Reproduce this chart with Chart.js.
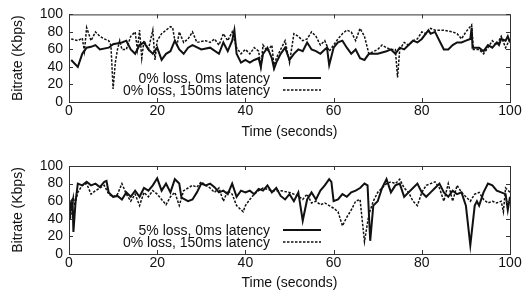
<!DOCTYPE html>
<html>
<head>
<meta charset="utf-8">
<script src="https://cdn.jsdelivr.net/npm/chart.js@4.4.1/dist/chart.umd.min.js"></script>
<style>
  html, body { margin: 0; padding: 0; background: #fff; }
  #wrap { position: relative; width: 527px; height: 301px; }
  #topChart { position: absolute; left: 0; top: 0; }
  #bottomChart { position: absolute; left: 0; top: 150px; }
</style>
</head>
<body>
<div id="wrap">
  <canvas id="topChart" width="527" height="150"></canvas>
  <canvas id="bottomChart" width="527" height="151"></canvas>
</div>
<script>
// Tick labels for both axes (gnuplot style)
const xTicks = [0, 20, 40, 60, 80, 100];
const yTicks = [0, 20, 40, 60, 80, 100];

// Top plot: 0% loss, 0ms latency
const topSolidTime = [
  0.5, 2, 3, 4, 5, 6, 7, 9, 10, 12,
  13, 14, 15, 16, 17, 18, 19, 20, 21, 22,
  23, 24, 25, 26, 27, 28, 30, 32, 34, 35,
  36, 37, 37.5, 38, 39, 40, 41, 42, 43, 43.5,
  44, 45, 46, 46.5, 47, 48, 49, 50, 51, 52,
  53, 54, 55, 56, 57, 58, 58.5, 59, 60, 61,
  62, 63, 64, 65, 66, 67, 68, 70, 72, 73,
  74, 75, 76, 77, 78, 79, 80, 81.5, 82, 83,
  84, 85, 86, 87, 88, 89, 90, 91, 91.3, 91.5,
  93, 94, 95, 96, 97, 97.5, 98, 99, 99.5, 100
];
const topSolidRate = [
  48, 40, 55, 62, 63, 65, 60, 62, 66, 68,
  70, 60, 55, 65, 68, 60, 55, 62, 48, 55,
  58, 70, 60, 55, 62, 65, 60, 62, 55, 68,
  58, 70, 82, 55, 45, 48, 45, 48, 50, 40,
  55, 62, 50, 38, 45, 55, 62, 48, 55, 60,
  58, 68, 60, 58, 55, 60, 62, 42, 62, 68,
  70, 62, 55, 60, 50, 48, 55, 55, 58, 60,
  55, 62, 60, 65, 70, 68, 72, 82, 78, 80,
  70, 60, 60, 65, 68, 68, 70, 72, 85, 62,
  62, 58, 65, 62, 68, 65, 72, 70, 75, 68
];

// Top plot: 0% loss, 150ms latency
const topDashTime = [
  0.5, 2, 3, 3.5, 4, 5, 6, 7, 8, 9,
  9.5, 10, 10.5, 11, 11.5, 12, 13, 14, 15, 15.5,
  16, 16.5, 17, 18, 19, 19.5, 20, 21, 22, 23,
  23.5, 24, 24.5, 25, 26, 27, 28, 29, 31, 32,
  33, 34, 35, 36, 37, 38, 39, 40, 41, 42,
  43, 43.5, 44, 45, 46, 46.5, 47, 48, 49, 50,
  51, 52, 53, 54, 55, 56, 57, 58, 59, 60,
  61, 62, 63, 64, 65, 66, 67, 68, 70, 71,
  72, 73, 74, 74.5, 75, 76, 77, 78, 79, 80,
  81, 82, 83, 85, 87, 88, 89, 90, 91.3, 91.7,
  93, 94, 95, 96, 97, 98, 99, 100
];
const topDashRate = [
  72, 70, 73, 58, 85, 70, 80, 75, 72, 70,
  65, 15, 45, 60, 70, 60, 60, 75, 80, 60,
  82, 50, 70, 60, 82, 48, 70, 78, 82, 86,
  85, 70, 65, 80, 68, 72, 80, 68, 70, 68,
  72, 65, 78, 70, 80, 62, 55, 60, 55, 62,
  58, 40, 65, 58, 65, 40, 50, 60, 70, 45,
  78, 75, 70, 72, 80, 75, 65, 70, 58, 65,
  72, 78, 82, 80, 70, 84, 75, 55, 60, 65,
  62, 60, 60, 28, 60, 68, 65, 70, 72, 80,
  78, 84, 82, 82, 80, 78, 72, 80, 88, 60,
  60, 55, 62, 70, 65, 75, 62, 72
];

// Bottom plot: 5% loss, 0ms latency
const bottomSolidTime = [
  0.2, 0.5, 0.8, 1, 1.5, 2, 3, 4, 5, 6,
  7, 8, 8.5, 9, 10, 11, 12, 13, 14, 15,
  16, 17, 18, 19, 20, 21, 22, 23, 24, 25,
  25.5, 27, 28, 29, 30, 31, 32, 33, 34, 35,
  36, 37, 38, 39, 40, 41, 42, 43, 44, 45,
  46, 47, 48, 49, 50, 51, 52, 53, 54, 55,
  56, 57, 58, 59, 59.5, 60, 61, 62, 63, 64,
  65, 66, 67, 67.7, 68.3, 69, 70, 71, 72, 73,
  74, 75, 76, 77, 78, 79, 80, 81, 82, 83,
  84, 85, 86, 87, 88, 89, 90, 91, 92, 92.5,
  93, 94, 95, 96, 97, 98, 99, 99.5, 100
];
const bottomSolidRate = [
  40, 60, 62, 25, 60, 80, 78, 82, 78, 80,
  76, 82, 83, 70, 65, 66, 62, 70, 65, 72,
  65, 75, 72, 78, 86, 72, 80, 70, 85, 80,
  64, 60, 62, 70, 80, 78, 80, 76, 70, 72,
  68, 80, 65, 72, 70, 72, 68, 74, 72, 78,
  70, 75, 66, 62, 68, 60, 70, 38, 62, 70,
  62, 72, 78, 85, 82, 60, 62, 68, 65, 70,
  72, 75, 80, 78, 15, 55, 60, 75, 85, 70,
  78, 80, 65, 70, 75, 80, 70, 65, 70, 75,
  80, 70, 65, 72, 68, 70, 55, 10, 55, 60,
  55, 70, 80, 78, 72, 70, 68, 50, 65
];

// Bottom plot: 0% loss, 150ms latency
const bottomDashTime = [
  0.3, 1, 1.3, 2, 3, 4, 5, 6, 7, 8,
  9, 10, 11, 12, 13, 14, 15, 16, 17, 18,
  19, 20, 21, 22, 23, 24, 25, 26, 27, 28,
  29, 30, 31, 32, 33, 34, 35, 36, 37, 38,
  39.5, 40, 41, 42, 43, 44, 46, 48, 50, 52,
  53, 54, 55, 56, 57, 58, 59, 60, 61, 62,
  63, 64, 65, 66, 67, 68, 69, 70, 71, 72,
  73, 74, 75, 76, 77, 78, 79, 80, 81, 82,
  83, 84, 85, 86, 87, 88, 89, 90, 91, 92,
  93, 94, 95, 96, 97, 98, 98.5, 99, 100
];
const bottomDashRate = [
  40, 65, 55, 70, 78, 80, 68, 72, 75, 78,
  68, 65, 68, 80, 68, 60, 68, 55, 70, 65,
  72, 68, 62, 56, 65, 70, 55, 72, 75, 78,
  76, 82, 78, 75, 70, 75, 60, 72, 68, 55,
  48, 55, 62, 68, 72, 75, 72, 72, 70, 66,
  62, 68, 58, 60, 56, 58, 55, 52, 48, 32,
  42, 50, 60, 62, 14, 45, 60, 70, 75, 80,
  82, 80, 85, 75, 70, 60, 55, 70, 78, 80,
  82, 75, 60, 80, 60, 78, 70, 65, 60, 68,
  70, 62, 58, 60, 58, 60, 48, 75, 70
];

const FONT = "'Liberation Sans', Arial, sans-serif";
const INK = '#111';

function toPoints(times, rates) {
  return times.map((t, i) => ({ x: t, y: rates[i] }));
}

// Box, inward ticks on all four sides, and the in-plot legend
const gnuplotFrame = {
  id: 'gnuplotFrame',
  afterDatasetsDraw(chart) {
    const { ctx, chartArea } = chart;
    const { left, right, top, bottom } = chartArea;
    const xs = chart.scales.x;
    const ys = chart.scales.y;
    const tickLen = 4;

    ctx.save();
    ctx.strokeStyle = '#333';
    ctx.lineWidth = 1;
    ctx.setLineDash([]);
    ctx.strokeRect(left + 0.5, top + 0.5, right - left, bottom - top);

    ctx.beginPath();
    xTicks.forEach(v => {
      const px = Math.round(xs.getPixelForValue(v)) + 0.5;
      ctx.moveTo(px, bottom);
      ctx.lineTo(px, bottom - tickLen);
      ctx.moveTo(px, top);
      ctx.lineTo(px, top + tickLen);
    });
    yTicks.forEach(v => {
      const py = Math.round(ys.getPixelForValue(v)) + 0.5;
      ctx.moveTo(left, py);
      ctx.lineTo(left + tickLen, py);
      ctx.moveTo(right, py);
      ctx.lineTo(right - tickLen, py);
    });
    ctx.stroke();

    // legend, right-aligned text with a line sample
    ctx.font = '14px ' + FONT;
    ctx.textAlign = 'right';
    ctx.textBaseline = 'middle';
    chart.data.datasets.forEach((ds, i) => {
      const y = bottom - 24 + i * 12;
      ctx.fillStyle = INK;
      ctx.fillText(ds.label, 270, y + 1);
      ctx.strokeStyle = INK;
      ctx.lineWidth = ds.borderWidth;
      ctx.setLineDash(ds.borderDash || []);
      ctx.beginPath();
      ctx.moveTo(283, y);
      ctx.lineTo(321, y);
      ctx.stroke();
    });
    ctx.restore();
  }
};

function makeChart(canvasId, solidLabel, solid, dashLabel, dash, padTop) {
  const canvas = document.getElementById(canvasId);
  // plot area is 88px tall in both panels
  const axisHeight = canvas.height - padTop - 88;

  return new Chart(canvas, {
    type: 'line',
    data: {
      datasets: [
        {
          label: solidLabel,
          data: solid,
          borderColor: INK,
          borderWidth: 2,
          pointRadius: 0,
          tension: 0
        },
        {
          label: dashLabel,
          data: dash,
          borderColor: INK,
          borderWidth: 1.5,
          borderDash: [2.5, 1.5],
          pointRadius: 0,
          tension: 0
        }
      ]
    },
    options: {
      responsive: false,
      animation: false,
      layout: { padding: { top: padTop, right: 17, bottom: 0, left: 0 } },
      plugins: {
        legend: { display: false },
        tooltip: { enabled: false }
      },
      scales: {
        x: {
          type: 'linear',
          min: 0,
          max: 100,
          grid: { display: false, drawTicks: false },
          border: { display: false },
          afterFit: (scale) => { scale.height = axisHeight; },
          afterBuildTicks: (scale) => { scale.ticks = xTicks.map(v => ({ value: v })); },
          ticks: { color: INK, padding: 1, autoSkip: false, maxRotation: 0, font: { family: FONT, size: 14 } },
          title: {
            display: true,
            text: 'Time (seconds)',
            color: INK,
            padding: { top: 0, bottom: 9 },
            font: { family: FONT, size: 14 }
          }
        },
        y: {
          min: 0,
          max: 100,
          grid: { display: false, drawTicks: false },
          border: { display: false },
          afterFit: (scale) => { scale.width = 69; },
          afterBuildTicks: (scale) => { scale.ticks = yTicks.map(v => ({ value: v })); },
          ticks: { color: INK, padding: 6, autoSkip: false, font: { family: FONT, size: 14 } },
          title: {
            display: true,
            text: 'Bitrate (Kbps)',
            color: INK,
            padding: { top: 10, bottom: 10 },
            font: { family: FONT, size: 14 }
          }
        }
      }
    },
    plugins: [gnuplotFrame]
  });
}

makeChart('topChart',
  '0% loss, 0ms latency', toPoints(topSolidTime, topSolidRate),
  '0% loss, 150ms latency', toPoints(topDashTime, topDashRate), 14);

makeChart('bottomChart',
  '5% loss, 0ms latency', toPoints(bottomSolidTime, bottomSolidRate),
  '0% loss, 150ms latency', toPoints(bottomDashTime, bottomDashRate), 16);
</script>
</body>
</html>
